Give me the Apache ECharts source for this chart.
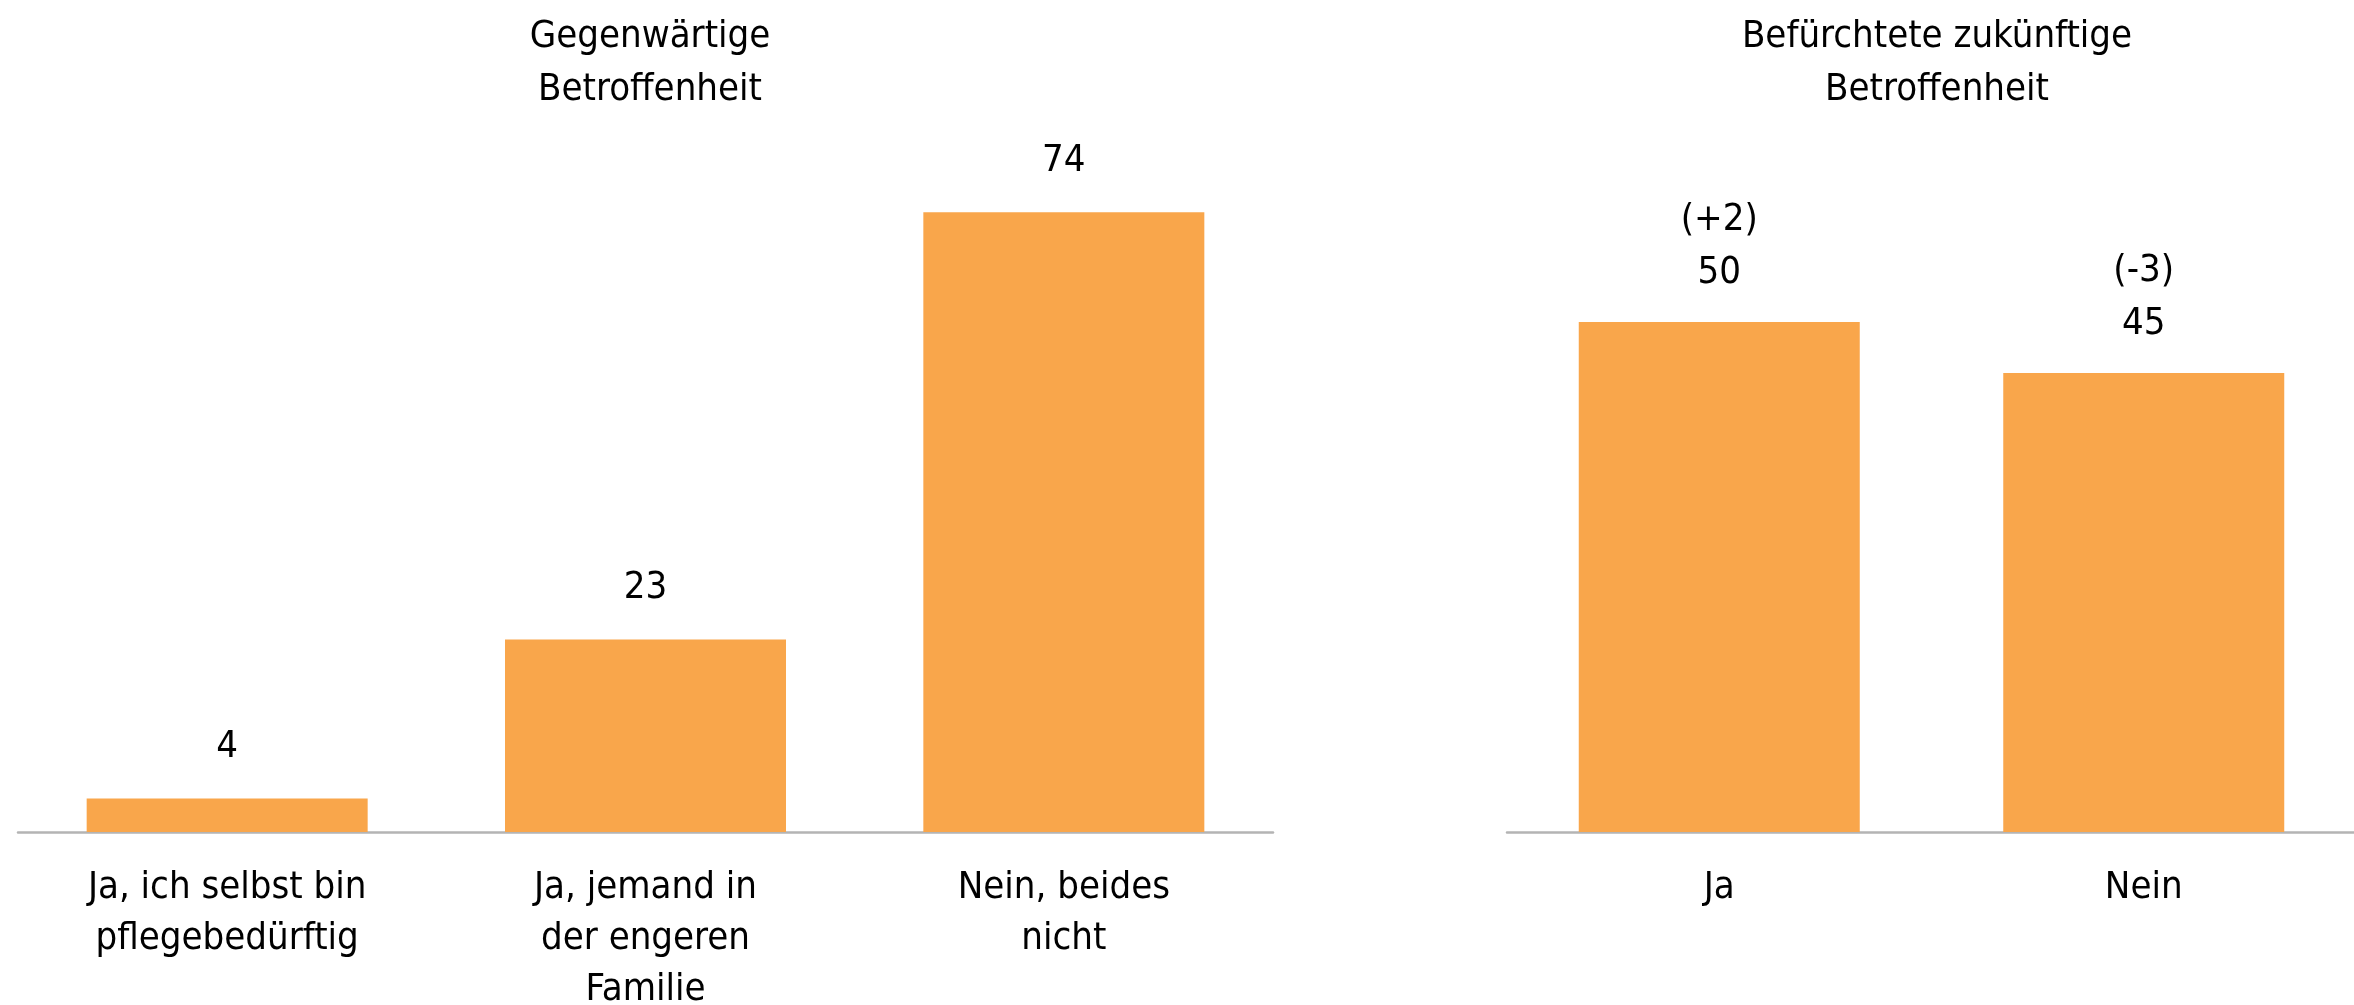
<!DOCTYPE html>
<html>
<head>
<meta charset="utf-8">
<script src="https://cdn.jsdelivr.net/npm/echarts@6/dist/echarts.min.js"></script>
<style>
  html, body { margin: 0; padding: 0; background: #ffffff; }
  #chart { width: 2354px; height: 1005px; }
</style>
</head>
<body>
<div id="chart"></div>
<script>
// ---- Data ----
const leftTitle = 'Gegenwärtige\nBetroffenheit';
const leftCategories = ['Ja, ich selbst bin\npflegebedürftig', 'Ja, jemand in\nder engeren\nFamilie', 'Nein, beides\nnicht'];
const leftValues = [4, 23, 74];

const rightTitle = 'Befürchtete zukünftige\nBetroffenheit';
const rightCategories = ['Ja', 'Nein'];
const rightValues = [50, 45];
const rightChanges = ['(+2)', '(-3)'];

// ---- Styles ----
const FONT = "'Liberation Sans Narrow', 'DejaVu Sans Condensed', Lato, sans-serif";
const FS = 38;
const LH = 53;
const BAR_COLOR = '#F9A64B';
const AXIS_COLOR = '#b4b4b4';

const chart = echarts.init(document.getElementById('chart'), null, { renderer: 'canvas' });

function xAxisFor(gridIndex, cats) {
  return {
    type: 'category', gridIndex: gridIndex, data: cats,
    axisTick: { show: false },
    axisLine: { lineStyle: { color: AXIS_COLOR, width: 2.5 } },
    axisLabel: { interval: 0, fontSize: FS, lineHeight: 51, color: '#000', fontFamily: FONT, margin: 31 },
    splitLine: { show: false }
  };
}

const option = {
  backgroundColor: '#ffffff',
  animation: false,
  textStyle: { fontFamily: FONT },
  title: [
    { text: leftTitle, left: 645, top: 6, textAlign: 'center',
      textStyle: { fontSize: FS, lineHeight: LH, fontWeight: 'normal', color: '#000', fontFamily: FONT } },
    { text: rightTitle, left: 1932, top: 6, textAlign: 'center',
      textStyle: { fontSize: FS, lineHeight: LH, fontWeight: 'normal', color: '#000', fontFamily: FONT } }
  ],
  grid: [
    { left: 18, width: 1255, top: 162, height: 670, containLabel: false, outerBoundsMode: 'none' },
    { left: 1507, width: 849, top: 220, height: 612, containLabel: false, outerBoundsMode: 'none' }
  ],
  xAxis: [ xAxisFor(0, leftCategories), xAxisFor(1, rightCategories) ],
  yAxis: [
    { type: 'value', gridIndex: 0, min: 0, max: 80, show: false },
    { type: 'value', gridIndex: 1, min: 0, max: 60, show: false }
  ],
  series: [
    {
      type: 'bar', xAxisIndex: 0, yAxisIndex: 0, data: leftValues,
      barWidth: 281, itemStyle: { color: BAR_COLOR },
      label: { show: true, position: 'top', distance: 25, fontSize: FS, lineHeight: LH, color: '#000', fontFamily: FONT }
    },
    {
      type: 'bar', xAxisIndex: 1, yAxisIndex: 1, data: rightValues,
      barWidth: 281, itemStyle: { color: BAR_COLOR },
      label: { show: true, position: 'top', distance: 22, fontSize: FS, lineHeight: LH, color: '#000', fontFamily: FONT,
        formatter: function (p) { return rightChanges[p.dataIndex] + '\n' + p.value; } }
    }
  ]
};
chart.setOption(option);
</script>
</body>
</html>
